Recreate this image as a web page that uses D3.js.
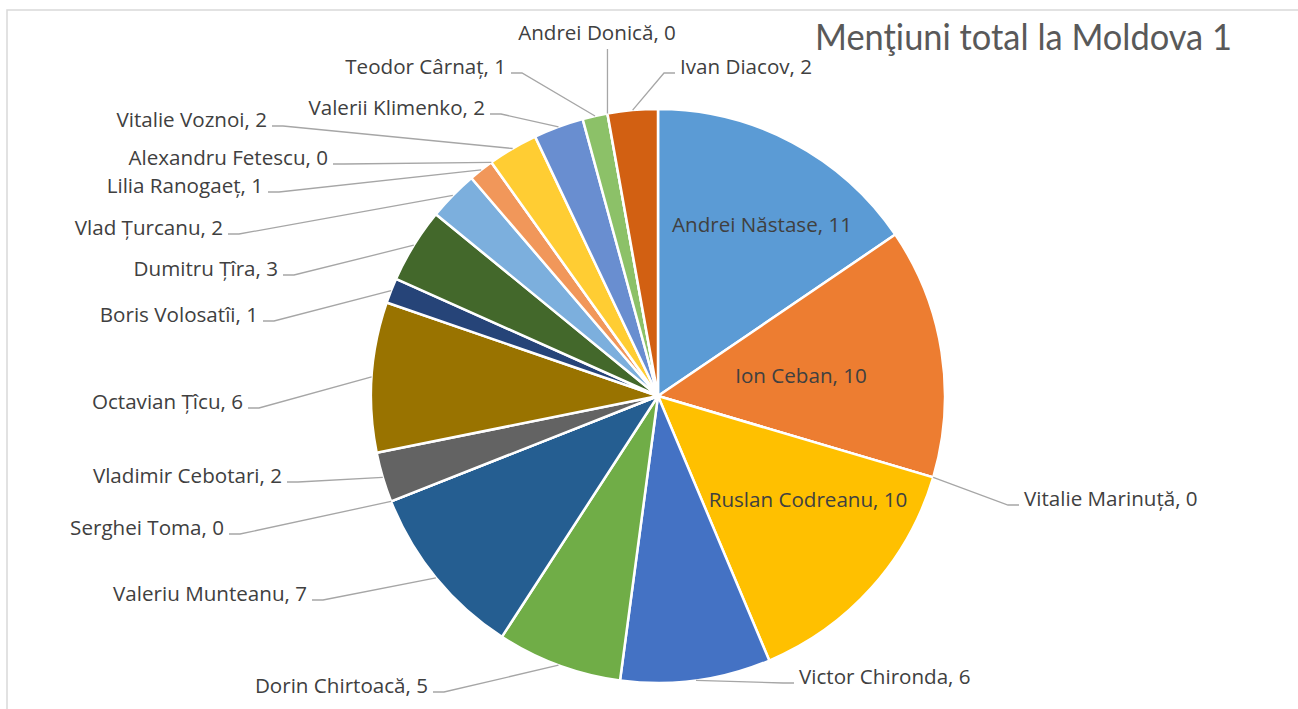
<!doctype html>
<html>
<head>
<meta charset="utf-8">
<title>Menţiuni total la Moldova 1</title>
<script src="https://d3js.org/d3.v7.min.js"></script>
<style>
  body { margin: 0; background: #fff; }
  svg { display: block; font-family: "Open Sans", Lato, sans-serif; }
  .lbl { fill: #404040; font-size: 20.6px; }
  .title { fill: #595959; font-size: 36px; font-family: Lato, sans-serif; }
  .leader { fill: none; stroke: #a6a6a6; stroke-width: 1.3; }
</style>
</head>
<body>
<script>
// data, clockwise from 12 o'clock
var names = ["Andrei Năstase", "Ion Ceban", "Vitalie Marinuță", "Ruslan Codreanu", "Victor Chironda",
  "Dorin Chirtoacă", "Valeriu Munteanu", "Serghei Toma", "Vladimir Cebotari", "Octavian Țîcu",
  "Boris Volosatîi", "Dumitru Țîra", "Vlad Țurcanu", "Lilia Ranogaeț", "Alexandru Fetescu",
  "Vitalie Voznoi", "Valerii Klimenko", "Teodor Cârnaț", "Andrei Donică", "Ivan Diacov"];
var mentions = [11, 10, 0, 10, 6, 5, 7, 0, 2, 6, 1, 3, 2, 1, 0, 2, 2, 1, 0, 2];
var colors = ["#5b9bd5", "#ed7d31", "#a5a5a5", "#ffc000", "#4472c4", "#70ad47", "#255e91", "#9e480e",
  "#636363", "#997300", "#264478", "#43682b", "#7cafdd", "#f1975a", "#b7b7b7", "#ffcd33",
  "#698ed0", "#8cc168", "#327dc2", "#d26012"];
var title = "Menţiuni total la Moldova 1";

// label layout: [side, x, baseline]  side: "in" inside, "L" text left of leader, "R" text right, "T" above
var labelAt = [["in", 762, 232], ["in", 801, 383], ["R", 1024, 506], ["in", 808, 507], ["R", 799, 684],
  ["L", 428, 693], ["L", 307, 601], ["L", 224, 535], ["L", 282, 483], ["L", 243, 409],
  ["L", 258, 322], ["L", 278, 276], ["L", 223, 235], ["L", 263, 193], ["L", 328, 165],
  ["L", 267, 127], ["L", 485, 115], ["L", 506, 74], ["T", 597, 40], ["R", 680, 74]];

var W = 1298, H = 709;
var cx = 658, cy = 396, R = 287;

var svg = d3.select("body").append("svg").attr("width", W).attr("height", H);

svg.append("rect").attr("x", 7).attr("y", 10).attr("width", W + 10).attr("height", H + 10)
  .attr("fill", "#fff").attr("stroke", "#d9d9d9").attr("stroke-width", 1.5);

var pie = d3.pie().sort(null).value(function(d) { return d; });
var arcs = pie(mentions);
var arc = d3.arc().innerRadius(0).outerRadius(R);

var g = svg.append("g").attr("transform", "translate(" + cx + "," + cy + ")");

g.selectAll("path.slice").data(arcs).enter().append("path")
  .attr("class", "slice")
  .attr("d", arc)
  .attr("fill", function(d, i) { return colors[i]; })
  .attr("stroke", "#fff").attr("stroke-width", 2.5).attr("stroke-linejoin", "round");

// leader lines
function edgePoint(d) {
  var a = (d.startAngle + d.endAngle) / 2;
  return [cx + R * Math.sin(a), cy - R * Math.cos(a)];
}

arcs.forEach(function(d, i) {
  var L = labelAt[i], side = L[0];
  if (side == "in") return;
  var p = edgePoint(d), pts;
  if (side == "T") {
    pts = [p, [p[0], L[2] + 9]];
  } else {
    var dir = side == "L" ? 1 : -1;
    var y = L[2] - 1;
    pts = [p, [L[1] + dir * 16, y], [L[1] + dir * 5, y]];
  }
  svg.append("path").attr("class", "leader").attr("d", d3.line()(pts));
});

// labels
svg.selectAll("text.lbl").data(arcs).enter().append("text")
  .attr("class", "lbl")
  .attr("x", function(d, i) { return labelAt[i][1]; })
  .attr("y", function(d, i) { return labelAt[i][2]; })
  .attr("text-anchor", function(d, i) {
    var s = labelAt[i][0];
    return s == "L" ? "end" : (s == "R" ? "start" : "middle");
  })
  .text(function(d, i) { return names[i] + ", " + mentions[i]; });

svg.append("text").attr("class", "title")
  .attr("x", 815).attr("y", 50)
  .attr("textLength", 417).attr("lengthAdjust", "spacingAndGlyphs")
  .text(title);
</script>
</body>
</html>
